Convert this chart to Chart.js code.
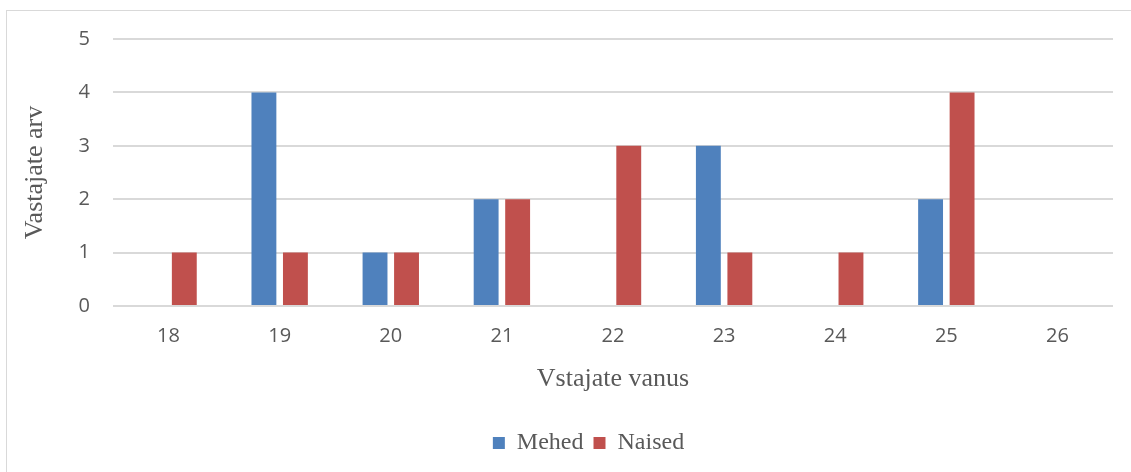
<!DOCTYPE html>
<html>
<head>
<meta charset="utf-8">
<script src="https://cdn.jsdelivr.net/npm/chart.js@4/dist/chart.umd.min.js"></script>
<style>
  html, body { margin: 0; padding: 0; background: #ffffff; }
  #wrap { position: relative; width: 1131px; height: 472px; }
</style>
</head>
<body>
<div id="wrap"><canvas id="c" width="1131" height="472"></canvas></div>
<script>
const categories = ['18', '19', '20', '21', '22', '23', '24', '25', '26'];
const mehed = [0, 4, 1, 2, 0, 3, 0, 2, 0];
const naised = [1, 1, 1, 2, 3, 1, 1, 4, 0];
const yTicks = [0, 1, 2, 3, 4, 5];
const seriesNames = ['Mehed', 'Naised'];
const xTitle = 'Vstajate vanus';
const yTitle = 'Vastajate arv';

const frame = {
  id: 'frame',
  beforeDraw(chart) {
    const ctx = chart.ctx;
    ctx.save();
    ctx.fillStyle = '#ffffff';
    ctx.fillRect(0, 0, chart.width, chart.height);
    ctx.strokeStyle = '#D9D9D9';
    ctx.lineWidth = 1;
    ctx.strokeRect(6.5, 10.5, chart.width + 20, chart.height + 20);
    ctx.restore();
  }
};

const legendShift = {
  id: 'legendShift',
  afterLayout(chart) {
    const lg = chart.legend;
    if (lg) { lg.left += 22; lg.right += 22; }
  }
};

new Chart(document.getElementById('c'), {
  type: 'bar',
  data: {
    labels: categories,
    datasets: [
      { label: seriesNames[0], data: mehed, backgroundColor: '#4F81BD', borderWidth: 0,
        barPercentage: 0.79, categoryPercentage: 0.567 },
      { label: seriesNames[1], data: naised, backgroundColor: '#C0504D', borderWidth: 0,
        barPercentage: 0.79, categoryPercentage: 0.567 }
    ]
  },
  options: {
    responsive: false,
    animation: false,
    devicePixelRatio: 1,
    layout: { padding: { left: 20, right: 18, top: 39, bottom: 7 } },
    plugins: {
      legend: {
        position: 'bottom',
        labels: {
          boxWidth: 12, boxHeight: 12, padding: 10,
          color: '#595959',
          font: { family: '"Liberation Serif", "Times New Roman", serif', size: 24 }
        }
      },
      tooltip: { enabled: false }
    },
    scales: {
      x: {
        grid: { display: false, drawTicks: false },
        border: { display: false },
        ticks: { color: '#595959', padding: 18, font: { family: '"Open Sans", sans-serif', size: 20 } },
        title: {
          display: true, text: xTitle, color: '#595959',
          font: { family: '"Liberation Serif", "Times New Roman", serif', size: 26 },
          padding: { top: 0, bottom: 26 }
        },
        afterFit(scale) { scale.height = 115; }
      },
      y: {
        min: 0, max: 5,
        afterBuildTicks(scale) { scale.ticks = yTicks.map(v => ({ value: v })); },
        grid: { color: '#D9D9D9', lineWidth: 2, drawTicks: false },
        border: { display: false },
        ticks: { color: '#595959', padding: 23, font: { family: '"Open Sans", sans-serif', size: 20 } },
        title: {
          display: true, text: yTitle, color: '#595959',
          font: { family: '"Liberation Serif", "Times New Roman", serif', size: 26 },
          padding: { top: 0, bottom: 0 }
        },
        afterFit(scale) { scale.width = 93; }
      }
    }
  },
  plugins: [frame, legendShift]
});
</script>
</body>
</html>
